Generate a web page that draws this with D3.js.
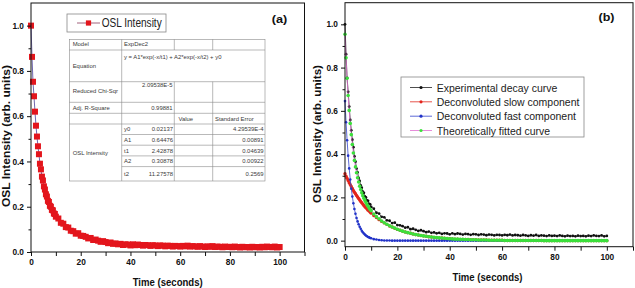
<!DOCTYPE html>
<html><head><meta charset="utf-8">
<script src="https://cdn.jsdelivr.net/npm/d3@7"></script>
<style>
html,body{margin:0;padding:0;background:#fff;}
svg{display:block;font-family:"Liberation Sans",Arial,sans-serif;}
</style></head>
<body>
<svg id="chart" width="635" height="288"></svg>
<script>
// ---- data ----
const time = [0,0.4,0.8,1.2,1.6,2.0,2.4,2.8,3.2,3.6,4.0,4.4,4.8,5.2,5.6,6.0,6.4,6.8,7.2,7.6,8.0,8.4,8.8,9.2,9.6,10,
 11,12,13,14,15,16,17,18,19,20,21,22,23,24,25,26,27,28,29,30,31,32,33,34,35,36,37,38,39,40,
 41,42,43,44,45,46,47,48,49,50,51,52,53,54,55,56,57,58,59,60,61,62,63,64,65,66,67,68,69,70,
 71,72,73,74,75,76,77,78,79,80,81,82,83,84,85,86,87,88,89,90,91,92,93,94,95,96,97,98,99,100];

const oslIntensity = [1.000,0.862,0.752,0.688,0.620,0.558,0.510,0.467,0.432,0.390,0.365,0.333,0.316,0.290,0.276,0.255,0.245,0.226,0.221,0.204,0.200,0.186,0.184,0.170,0.168,0.156,
 0.148,0.129,0.125,0.110,0.108,0.094,0.092,0.081,0.083,0.072,0.071,0.067,0.060,0.062,0.053,0.055,0.050,0.045,0.048,0.044,0.039,0.042,0.036,0.038,0.034,0.036,0.031,0.034,0.033,0.029,
 0.034,0.030,0.033,0.031,0.028,0.031,0.030,0.027,0.030,0.029,0.026,0.029,0.028,0.025,0.028,0.027,0.024,0.027,0.026,0.024,0.027,0.025,0.028,0.024,0.026,0.025,0.023,0.026,0.024,0.022,
 0.025,0.023,0.026,0.022,0.024,0.023,0.021,0.024,0.022,0.023,0.021,0.024,0.022,0.020,0.023,0.021,0.022,0.020,0.023,0.021,0.022,0.020,0.023,0.021,0.024,0.022,0.021,0.024,0.020,0.022];

const slowComponent = [0.309,0.298,0.288,0.278,0.268,0.259,0.250,0.241,0.232,0.224,0.217,0.209,0.202,0.195,0.188,0.181,0.175,0.169,0.163,0.157,0.152,0.147,0.141,0.137,0.132,0.127,
 0.116,0.107,0.097,0.089,0.082,0.075,0.068,0.063,0.057,0.052,0.048,0.044,0.040,0.037,0.034,0.031,0.028,0.026,0.024,0.022,0.020,0.018,0.017,0.015,0.014,0.013,0.012,0.011,0.010,0.009,
 0.008,0.007,0.007,0.006,0.006,0.005,0.005,0.004,0.004,0.004,0.003,0.003,0.003,0.003,0.002,0.002,0.002,0.002,0.002,0.002,0.001,0.001,0.001,0.001,0.001,0.001,0.001,0.001,0.001,0.001,
 0.001,0.001,0.001,0.001,0.001,0,0,0,0,0,0,0,0,0,0,0,0,0,0,0,0,0,0,0,0,0,0,0,0,0];

const fastComponent = [0.645,0.547,0.464,0.393,0.334,0.283,0.240,0.204,0.173,0.146,0.124,0.105,0.089,0.076,0.064,0.055,0.046,0.039,0.033,0.028,0.024,0.020,0.017,0.015,0.012,0.011,
 0.007,0.005,0.003,0.002,0.001,0.001,0.001,0,0,0,0,0,0,0,0,0,0,0,0,0,0,0,0,0,0,0,0,0,0,0,
 0,0,0,0,0,0,0,0,0,0,0,0,0,0,0,0,0,0,0,0,0,0,0,0,0,0,0,0,0,0,
 0,0,0,0,0,0,0,0,0,0,0,0,0,0,0,0,0,0,0,0,0,0,0,0,0,0,0,0,0,0];

const fittedCurve = [0.954,0.845,0.751,0.671,0.602,0.542,0.490,0.444,0.405,0.371,0.341,0.314,0.291,0.271,0.252,0.236,0.221,0.208,0.196,0.186,0.176,0.167,0.159,0.151,0.144,0.138,
 0.123,0.111,0.101,0.091,0.083,0.076,0.069,0.063,0.058,0.053,0.048,0.044,0.040,0.037,0.034,0.031,0.028,0.026,0.024,0.022,0.020,0.018,0.017,0.015,0.014,0.013,0.012,0.011,0.010,0.009,
 0.008,0.007,0.007,0.006,0.006,0.005,0.005,0.004,0.004,0.004,0.003,0.003,0.003,0.003,0.002,0.002,0.002,0.002,0.002,0.002,0.001,0.001,0.001,0.001,0.001,0.001,0.001,0.001,0.001,0.001,
 0.001,0.001,0.001,0.001,0.001,0,0,0,0,0,0,0,0,0,0,0,0,0,0,0,0,0,0,0,0,0,0,0,0,0];

const xTickValues = [0,20,40,60,80,100];
const xMinorValues = [10,30,50,70,90,110];
const yTickValues = [0,0.2,0.4,0.6,0.8,1.0];
const yMinorValues = [0.1,0.3,0.5,0.7,0.9];

const legendA = ["OSL Intensity"];
const legendB = ["Experimental decay curve","Deconvoluted slow component","Deconvoluted fast component","Theoretically fitted curve"];

const tableParams = ["y0","A1","t1","A2","t2"];
const tableValues = ["0.02137","0.64476","2.42878","0.30878","11.27578"];
const tableErrors = ["4.29539E-4","0.00891","0.04639","0.00922","0.2569"];

// ---- drawing ----
const svg = d3.select("#chart");
const FONT = '"Liberation Sans",Arial,sans-serif';

function axes(x, y, x0, x1, yTop, yBot){
  const g = svg.append("g");
  g.append("g").attr("transform",`translate(0,${yBot})`)
    .call(d3.axisBottom(x).tickValues(xMinorValues).tickSize(4).tickFormat(""))
    .call(s=>s.select(".domain").remove());
  g.append("g").attr("transform",`translate(0,${yBot})`)
    .call(d3.axisBottom(x).tickValues(xTickValues).tickSize(4).tickPadding(3).tickFormat(d3.format("d")))
    .call(s=>s.select(".domain").remove())
    .call(s=>s.selectAll("text").attr("font-size",8.3).attr("font-weight","bold").attr("font-family",FONT).attr("fill","#111"));
  g.append("g").attr("transform",`translate(${x0},0)`)
    .call(d3.axisLeft(y).tickValues(yMinorValues).tickSize(2.5).tickFormat(""))
    .call(s=>s.select(".domain").remove());
  g.append("g").attr("transform",`translate(${x0},0)`)
    .call(d3.axisLeft(y).tickValues(yTickValues).tickSize(4).tickPadding(3).tickFormat(d3.format(".1f")))
    .call(s=>s.select(".domain").remove())
    .call(s=>s.selectAll("text").attr("font-size",8.3).attr("font-weight","bold").attr("font-family",FONT).attr("fill","#111"));
  g.selectAll(".tick line").attr("stroke","#111");
  svg.append("rect").attr("x",x0).attr("y",yTop).attr("width",x1-x0).attr("height",yBot-yTop)
    .attr("fill","none").attr("stroke","#111").attr("stroke-width",1);
}

function label(txt,x,y,size,len,opts={}){
  const t = svg.append("text").attr("x",x).attr("y",y).text(txt)
    .attr("font-size",size).attr("font-family",FONT).attr("fill",opts.fill||"#111")
    .attr("text-anchor",opts.anchor||"middle").attr("dominant-baseline","central");
  if(opts.bold) t.attr("font-weight","bold");
  if(len){ t.attr("textLength",len).attr("lengthAdjust","spacingAndGlyphs"); }
  if(opts.rotate) t.attr("transform",`rotate(-90,${x},${y})`);
  return t;
}

// ---------- Panel (a) ----------
const xL = d3.scaleLinear().domain([0,110]).range([31,304.5]);
const yL = d3.scaleLinear().domain([0,1.1]).range([252,3]);
const ptsA = time.map((t,i)=>[t,oslIntensity[i]]);
const SQ = 6;
svg.append("path").datum(ptsA)
  .attr("d",d3.line().x(d=>xL(d[0])).y(d=>yL(d[1])))
  .attr("fill","none").attr("stroke","#4a3f9a").attr("stroke-width",0.8);
svg.append("g").selectAll("rect").data(ptsA).join("rect")
  .attr("x",d=>xL(d[0])-SQ/2).attr("y",d=>yL(d[1])-SQ/2).attr("width",SQ).attr("height",SQ)
  .attr("fill","#e3151c");
axes(xL,yL,31,304.5,3,252);
label("OSL Intensity (arb. units)",5.5,136,10.5,142,{bold:true,rotate:true});
label("Time (seconds)",167.7,282.3,10,70,{bold:true});
label("(a)",279.5,18.7,11,15.5,{bold:true});

// legend (a)
svg.append("rect").attr("x",67).attr("y",14).attr("width",99).attr("height",18)
  .attr("fill","#fff").attr("stroke","#888").attr("stroke-width",0.8);
svg.append("line").attr("x1",77).attr("x2",100).attr("y1",23).attr("y2",23).attr("stroke","#8a3a5a").attr("stroke-width",0.8);
svg.append("rect").attr("x",88.5-2.6).attr("y",23-2.6).attr("width",5.2).attr("height",5.2).attr("fill","#e3151c");
label(legendA[0],101.7,23.3,12,60,{anchor:"start",fill:"#222"});

// table (a)
const tb = svg.append("g").attr("stroke","#8a8a8a").attr("stroke-width",0.6);
const cx = [69.3,121.7,174.3,212.7,265];
const ry = [39.3,50,81.7,102.3,113.3,124,134.5,145.2,155.9,166.6,181];
tb.append("rect").attr("x",cx[0]).attr("y",ry[0]).attr("width",cx[4]-cx[0]).attr("height",ry[10]-ry[0]).attr("fill","#fff");
[1,2,3,4,5].forEach(i=>tb.append("line").attr("x1",cx[0]).attr("x2",cx[4]).attr("y1",ry[i]).attr("y2",ry[i]));
[6,7,8,9].forEach(i=>tb.append("line").attr("x1",cx[1]).attr("x2",cx[4]).attr("y1",ry[i]).attr("y2",ry[i]));
tb.append("line").attr("x1",cx[1]).attr("x2",cx[1]).attr("y1",ry[0]).attr("y2",ry[10]);
[2,3].forEach(j=>{
  tb.append("line").attr("x1",cx[j]).attr("x2",cx[j]).attr("y1",ry[0]).attr("y2",ry[1]);
  tb.append("line").attr("x1",cx[j]).attr("x2",cx[j]).attr("y1",ry[2]).attr("y2",ry[10]);
});
const TS = 5.9, TC = "#3a3a3a";
label("Model",72.7,43.8,TS,null,{anchor:"start",fill:TC});
label("ExpDec2",124,43.8,TS,null,{anchor:"start",fill:TC});
label("Equation",72.7,66,TS,null,{anchor:"start",fill:TC});
label("y = A1*exp(-x/t1) + A2*exp(-x/t2) + y0",124,57.3,TS,null,{anchor:"start",fill:TC});
label("Reduced Chi-Sqr",72.7,90.7,TS,null,{anchor:"start",fill:TC});
label("2.09538E-5",172.5,84.5,TS,null,{anchor:"end",fill:TC});
label("Adj. R-Square",72.7,107.8,TS,null,{anchor:"start",fill:TC});
label("0.99881",172.5,107.8,TS,null,{anchor:"end",fill:TC});
label("Value",178.5,118.6,TS,null,{anchor:"start",fill:TC});
label("Standard Error",215,118.6,TS,null,{anchor:"start",fill:TC});
label("OSL Intensity",72.7,153.3,TS,null,{anchor:"start",fill:TC});
tableParams.forEach((p,i)=>{
  const yy = (ry[5+i]+ry[6+i])/2;
  label(p,124,yy,TS,null,{anchor:"start",fill:TC});
  label(tableValues[i],173,yy,TS,null,{anchor:"end",fill:TC});
  label(tableErrors[i],263.5,yy,TS,null,{anchor:"end",fill:TC});
});

// ---------- Panel (b) ----------
const xR = d3.scaleLinear().domain([0,110]).range([345,633]);
const yR = d3.scaleLinear().domain([-0.028,1.1]).range([246.7,2.7]);
const seriesB = [
  {vals:oslIntensity, line:"#222", dot:"#111", r:1.4},
  {vals:slowComponent, line:"#e02a20", dot:"#e3241c", r:1.7},
  {vals:fastComponent, line:"#3344cc", dot:"#2233c8", r:1.3},
  {vals:fittedCurve, line:"#e070d0", dot:"#3be03b", r:1.8}
];
seriesB.forEach(s=>{
  const pts = time.map((t,i)=>[t,s.vals[i]]);
  svg.append("path").datum(pts).attr("d",d3.line().x(d=>xR(d[0])).y(d=>yR(d[1])))
    .attr("fill","none").attr("stroke",s.line).attr("stroke-width",0.8);
  svg.append("g").selectAll("circle").data(pts).join("circle")
    .attr("cx",d=>xR(d[0])).attr("cy",d=>yR(d[1])).attr("r",s.r).attr("fill",s.dot);
});
axes(xR,yR,345,633,2.7,246.7);
label("OSL Intensity (arb. units)",317,134,10.5,138,{bold:true,rotate:true});
label("Time (seconds)",487.5,277.7,10,70,{bold:true});
label("(b)",606.5,16.7,11,16,{bold:true});

// legend (b)
svg.append("rect").attr("x",401).attr("y",77).attr("width",183).attr("height",60)
  .attr("fill","#fff").attr("stroke","#888").attr("stroke-width",0.8);
const legLens = [120.7,142.7,139.3,113.3];
const legY = [87.5,101.8,116.2,130.5];
legendB.forEach((txt,i)=>{
  const s = seriesB[i];
  svg.append("line").attr("x1",410).attr("x2",432).attr("y1",legY[i]).attr("y2",legY[i]).attr("stroke",s.line).attr("stroke-width",0.8);
  svg.append("circle").attr("cx",421).attr("cy",legY[i]).attr("r",1.6).attr("fill",s.dot);
  label(txt,436.7,legY[i],11.5,legLens[i],{anchor:"start",fill:"#222"});
});
</script>
</body></html>
